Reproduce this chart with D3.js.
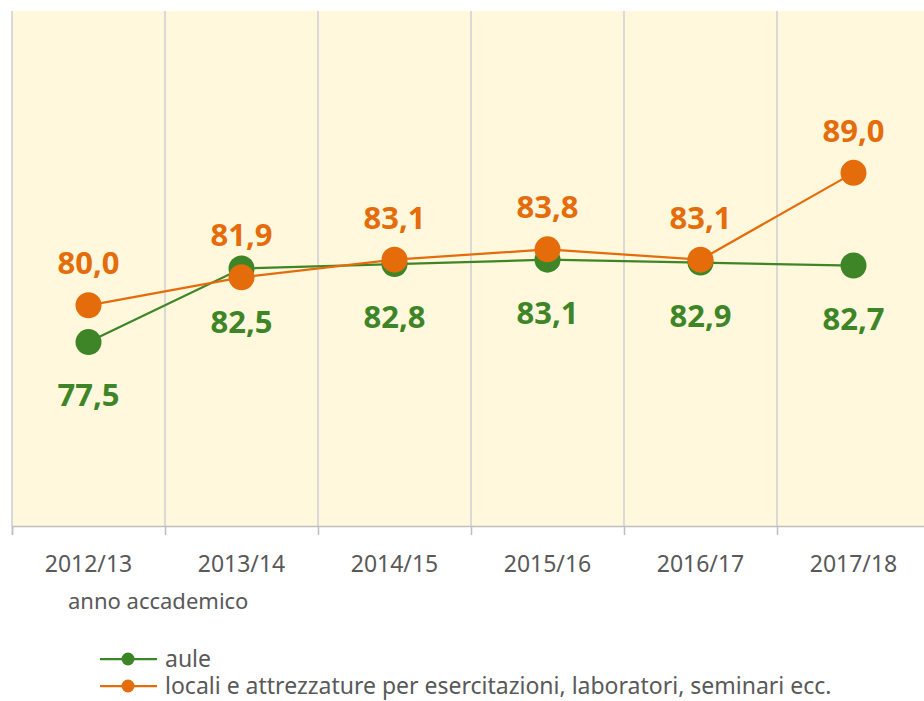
<!DOCTYPE html>
<html>
<head>
<meta charset="utf-8">
<script src="https://cdn.jsdelivr.net/npm/d3@7"></script>
<style>
  html, body { margin: 0; padding: 0; background: #ffffff; }
  svg { display: block; font-family: "Noto Sans", "Open Sans", sans-serif; }
</style>
</head>
<body>
<svg id="chart" width="924" height="701"></svg>
<script>
// Academic years on the horizontal axis
const years = ["2012/13", "2013/14", "2014/15", "2015/16", "2016/17", "2017/18"];

// Satisfaction scores per year
const auleValues = [77.5, 82.5, 82.8, 83.1, 82.9, 82.7];
const localiValues = [80.0, 81.9, 83.1, 83.8, 83.1, 89.0];

// Series names shown in the legend
const seriesNames = ["aule", "locali e attrezzature per esercitazioni, laboratori, seminari ecc."];
const seriesColors = ["#3e8527", "#e46c0a"];

const axisTitle = "anno accademico";
const yDomain = [65, 100];

const svg = d3.select("#chart");
const plot = { left: 12, right: 930, top: 11, bottom: 526 };

const x = d3.scaleBand().domain(years).range([plot.left, plot.right]).padding(0);
const xEdge = d3.scaleLinear().domain([0, years.length]).range([plot.left, plot.right]);
const y = d3.scaleLinear().domain(yDomain).range([plot.bottom, plot.top]);

// Plot background
svg.append("rect")
  .attr("x", plot.left).attr("y", plot.top)
  .attr("width", plot.right - plot.left).attr("height", plot.bottom - plot.top)
  .attr("fill", "#fff8dc");

// Vertical gridlines at category boundaries
svg.append("g").selectAll("line")
  .data(d3.range(years.length + 1))
  .join("line")
  .attr("x1", i => xEdge(i)).attr("x2", i => xEdge(i))
  .attr("y1", plot.top).attr("y2", plot.bottom)
  .attr("stroke", "#d9d9d9").attr("stroke-width", 2);

// Axis line with tick marks between categories
const tickAxis = svg.append("g")
  .attr("transform", `translate(0,${plot.bottom})`)
  .call(d3.axisBottom(xEdge).tickValues(d3.range(years.length + 1)).tickSize(9).tickFormat(""));
tickAxis.select(".domain").attr("stroke", "#bfbfbf").attr("stroke-width", 1.5);
tickAxis.selectAll(".tick line").attr("stroke", "#bfbfbf").attr("stroke-width", 1.5);

// Category labels
const labelAxis = svg.append("g")
  .attr("transform", `translate(0,${plot.bottom})`)
  .call(d3.axisBottom(x).tickSize(0).tickPadding(30));
labelAxis.select(".domain").remove();
labelAxis.selectAll(".tick text")
  .attr("fill", "#595959")
  .style("font-size", "23px")
  .style("font-family", "'Noto Sans', sans-serif");

// Axis title
svg.append("text")
  .attr("x", 68).attr("y", 609)
  .attr("fill", "#595959")
  .style("font-size", "22px")
  .text(axisTitle);

// Series lines, markers and value labels
const series = [
  { values: auleValues, color: seriesColors[0], labelDy: 64 },
  { values: localiValues, color: seriesColors[1], labelDy: -31 }
];

const line = d3.line()
  .x((d, i) => x(years[i]) + x.bandwidth() / 2)
  .y(d => y(d));

series.forEach(s => {
  const g = svg.append("g");
  g.append("path")
    .datum(s.values)
    .attr("d", line)
    .attr("fill", "none")
    .attr("stroke", s.color)
    .attr("stroke-width", 2.25);
  g.selectAll("circle")
    .data(s.values)
    .join("circle")
    .attr("cx", (d, i) => x(years[i]) + x.bandwidth() / 2)
    .attr("cy", d => y(d))
    .attr("r", 13)
    .attr("fill", s.color);
});

series.forEach(s => {
  svg.append("g").selectAll("text")
    .data(s.values)
    .join("text")
    .attr("x", (d, i) => x(years[i]) + x.bandwidth() / 2)
    .attr("y", d => y(d) + s.labelDy)
    .attr("text-anchor", "middle")
    .attr("fill", s.color)
    .style("font-size", "31px")
    .style("font-weight", "bold")
    .text(d => d3.format(".1f")(d).replace(".", ","));
});

// Legend
const legend = svg.append("g");
const legendRows = [659, 686];
seriesNames.forEach((name, i) => {
  const row = legend.append("g").attr("transform", `translate(0,${legendRows[i]})`);
  row.append("line")
    .attr("x1", 100).attr("x2", 157)
    .attr("stroke", seriesColors[i]).attr("stroke-width", 2.25);
  row.append("circle")
    .attr("cx", 128).attr("cy", 0).attr("r", 6.5)
    .attr("fill", seriesColors[i]);
  row.append("text")
    .attr("x", 165).attr("y", 8)
    .attr("fill", "#595959")
    .style("font-size", "23px")
    .text(name);
});
</script>
</body>
</html>
